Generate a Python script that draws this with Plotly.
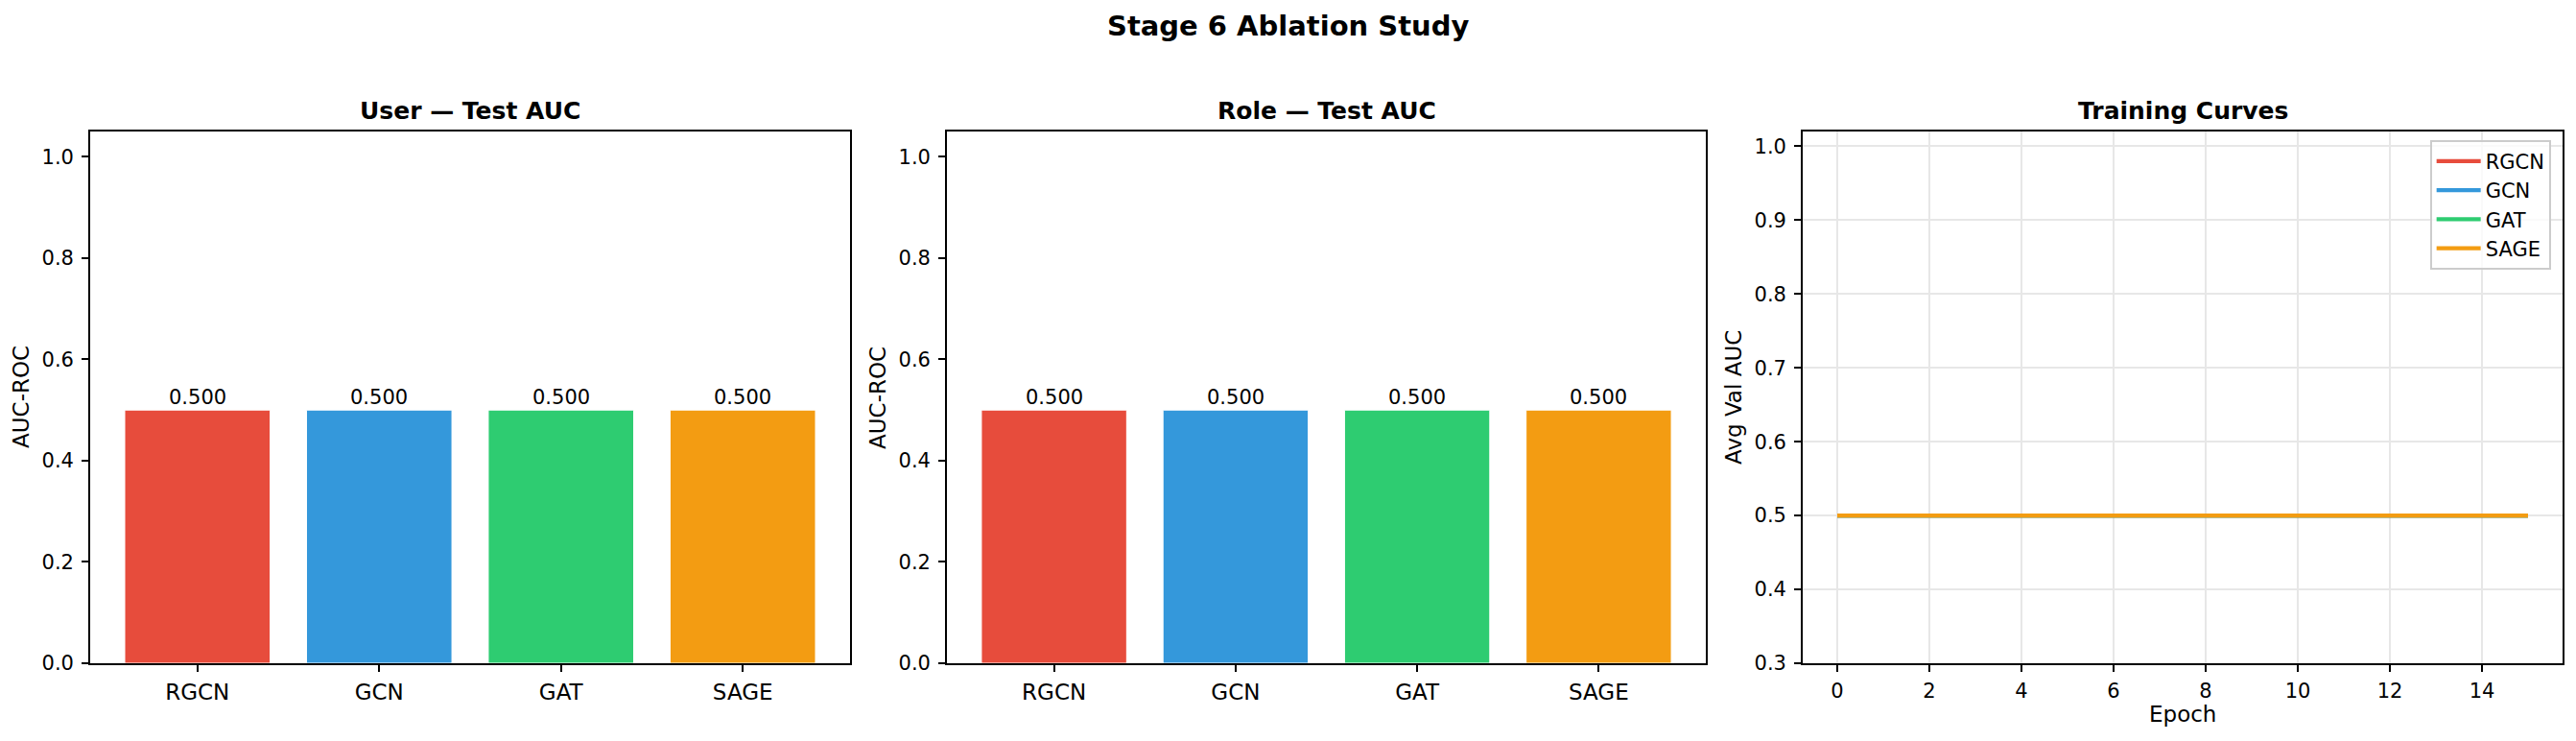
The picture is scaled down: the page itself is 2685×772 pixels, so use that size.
import plotly.graph_objects as go

# ---------------- data ----------------
models = ["RGCN", "GCN", "GAT", "SAGE"]
colors = ["#e74c3c", "#3498db", "#2ecc71", "#f39c12"]
user_auc = [0.500, 0.500, 0.500, 0.500]
role_auc = [0.500, 0.500, 0.500, 0.500]
epochs = [0, 1, 2, 3, 4, 5, 6, 7, 8, 9, 10, 11, 12, 13, 14, 15]
val_rgcn = [0.5, 0.5, 0.5, 0.5, 0.5, 0.5, 0.5, 0.5, 0.5, 0.5, 0.5, 0.5, 0.5, 0.5, 0.5, 0.5]
val_gcn = [0.5, 0.5, 0.5, 0.5, 0.5, 0.5, 0.5, 0.5, 0.5, 0.5, 0.5, 0.5, 0.5, 0.5, 0.5, 0.5]
val_gat = [0.5, 0.5, 0.5, 0.5, 0.5, 0.5, 0.5, 0.5, 0.5, 0.5, 0.5, 0.5, 0.5, 0.5, 0.5, 0.5]
val_sage = [0.5, 0.5, 0.5, 0.5, 0.5, 0.5, 0.5, 0.5, 0.5, 0.5, 0.5, 0.5, 0.5, 0.5, 0.5, 0.5]
curves = [val_rgcn, val_gcn, val_gat, val_sage]
panel_titles = ["User — Test AUC", "Role — Test AUC", "Training Curves"]
suptitle = "Stage 6 Ablation Study"

# ---------------- layout helpers ----------------
W, H = 2685, 772
FONT = "DejaVu Sans"
def px(x):
    return x / W
def py(y):
    return 1 - y / H

panels_x = [(94, 886), (987, 1778), (1879, 2671)]
top, bottom = 137, 691
LW = 1.67

fig = go.Figure()

# bar panels
for i, vals in enumerate([user_auc, role_auc]):
    ax = "" if i == 0 else str(i + 1)
    fig.add_trace(go.Bar(
        x=models, y=vals, width=0.8,
        marker=dict(color=colors, line=dict(color="white", width=1)),
        showlegend=False, xaxis="x" + ax, yaxis="y" + ax,
        hoverinfo="skip",
    ))
    for m, v in zip(models, vals):
        fig.add_annotation(
            x=m, y=v, xref="x" + ax, yref="y" + ax,
            text=f"{v:.3f}", showarrow=False,
            yanchor="middle", yshift=13.5,
            font=dict(family=FONT, size=21, color="black"),
        )

# training curves
for m, c, ys in zip(models, colors, curves):
    fig.add_trace(go.Scatter(
        x=epochs, y=ys, mode="lines", name=m,
        line=dict(color=c, width=4.2),
        xaxis="x3", yaxis="y3",
    ))

axis_common = dict(
    showline=True, mirror=True, linecolor="black", linewidth=LW,
    ticks="outside", ticklen=7, tickwidth=LW, tickcolor="black",
    zeroline=False, automargin=False,
)

layout = dict(
    width=W, height=H,
    margin=dict(l=0, r=0, t=0, b=0),
    paper_bgcolor="white", plot_bgcolor="white",
    font=dict(family=FONT, color="black"),
    showlegend=True,
    legend=dict(
        x=px(2659), y=py(146), xanchor="right", yanchor="top",
        bgcolor="rgba(255,255,255,0.8)", bordercolor="#cccccc", borderwidth=LW,
        font=dict(family=FONT, size=21, color="black"),
        traceorder="normal", itemwidth=46,
    ),
)

for i in range(3):
    ax = "" if i == 0 else str(i + 1)
    x0, x1 = panels_x[i]
    xa = dict(axis_common, domain=[px(x0), px(x1)], anchor="y" + ax)
    ya = dict(axis_common, domain=[py(bottom), py(top)], anchor="x" + ax)
    if i < 2:
        xa.update(range=[-0.59, 3.59], showgrid=False,
                  tickfont=dict(family=FONT, size=23), ticklabelstandoff=2)
        ya.update(range=[0, 1.05], tick0=0, dtick=0.2, tickformat=".1f",
                  showgrid=False, tickfont=dict(family=FONT, size=21),
                  ticklabelstandoff=4)
    else:
        xa.update(range=[-0.75, 15.75], tick0=0, dtick=2, showgrid=True,
                  gridcolor="#e7e7e7", gridwidth=LW,
                  tickfont=dict(family=FONT, size=21), ticklabelstandoff=2)
        ya.update(range=[0.3, 1.02], tick0=0.3, dtick=0.1, tickformat=".1f",
                  showgrid=True, gridcolor="#e7e7e7", gridwidth=LW,
                  tickfont=dict(family=FONT, size=21), ticklabelstandoff=4)
    layout["xaxis" + ax] = xa
    layout["yaxis" + ax] = ya

fig.update_layout(**layout)

# titles
fig.add_annotation(x=0.5, y=py(26.5), xref="paper", yref="paper",
                   text="<b>" + suptitle + "</b>", showarrow=False,
                   xanchor="center", yanchor="middle",
                   font=dict(family=FONT, size=29, color="black"))
for (x0, x1), t in zip(panels_x, panel_titles):
    fig.add_annotation(x=px((x0 + x1) / 2), y=py(115.5), xref="paper", yref="paper",
                       text="<b>" + t + "</b>", showarrow=False,
                       xanchor="center", yanchor="middle",
                       font=dict(family=FONT, size=25, color="black"))

# axis labels
ylabels = ["AUC-ROC", "AUC-ROC", "Avg Val AUC"]
for (x0, x1), t in zip(panels_x, ylabels):
    fig.add_annotation(x=px(x0 - 72), y=py((top + bottom) / 2), xref="paper", yref="paper",
                       text=t, showarrow=False, textangle=-90,
                       xanchor="center", yanchor="middle",
                       font=dict(family=FONT, size=23, color="black"))
x0, x1 = panels_x[2]
fig.add_annotation(x=px((x0 + x1) / 2), y=py(744), xref="paper", yref="paper",
                   text="Epoch", showarrow=False, xanchor="center", yanchor="middle",
                   font=dict(family=FONT, size=23, color="black"))

fig.write_html(
    "out.html",
    config={"displayModeBar": False},
    post_script="document.body.style.margin='0';document.body.style.overflow='hidden';",
)
